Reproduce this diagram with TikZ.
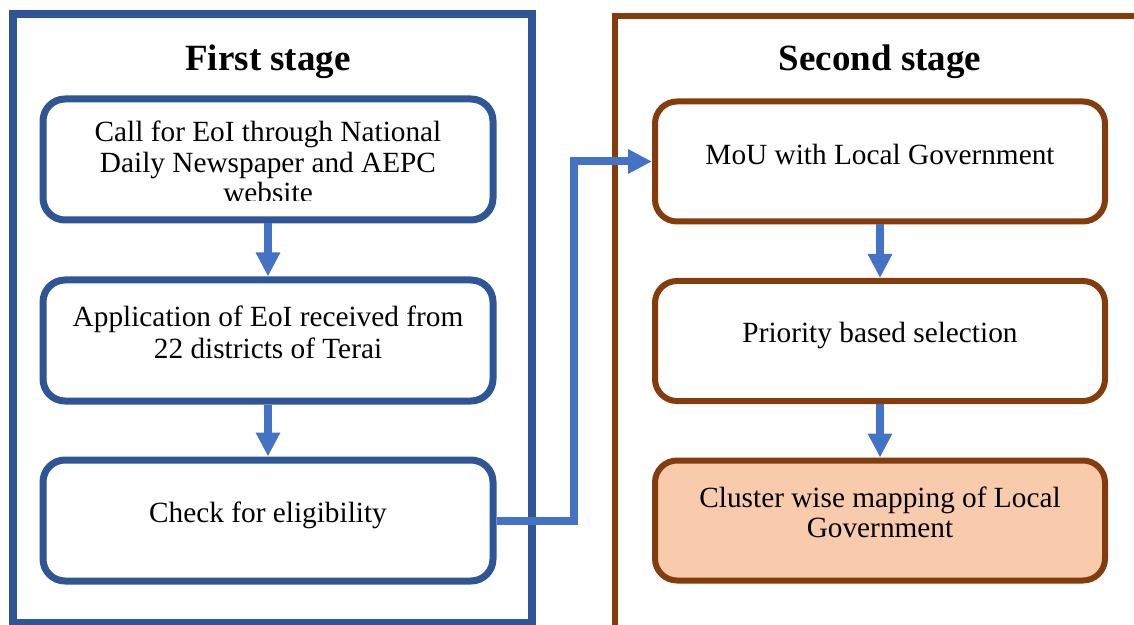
\documentclass[tikz,border=0pt]{standalone}
\usepackage{fontspec}
\setmainfont{Liberation Serif}
\usetikzlibrary{arrows.meta}
\definecolor{frameblue}{HTML}{2F5597}
\definecolor{framebrown}{HTML}{843C0C}
\definecolor{flowblue}{HTML}{4472C4}
\definecolor{peach}{HTML}{F8CBAD}
\begin{document}
\begin{tikzpicture}[x=0.5pt,y=-0.5pt,
  leftbox/.style={draw=frameblue, line width=3.5pt, rounded corners=11pt,
    minimum width=225pt, minimum height=60.5pt, inner sep=0pt, fill=white},
  rightbox/.style={draw=framebrown, line width=3pt, rounded corners=11pt,
    minimum width=225pt, minimum height=60pt, inner sep=0pt, fill=white},
  boxtext/.style={anchor=base, inner sep=0pt,
    font=\fontsize{14.65}{15.25}\selectfont},
  stagetitle/.style={anchor=base, inner sep=0pt,
    font=\fontsize{18.5}{22}\selectfont\bfseries},
  flow/.style={draw=flowblue, line width=4pt,
    -{Triangle[width=11.5pt,length=12pt]}},
]
\clip (0,0) rectangle (1134,625);

% stage frames
\draw[frameblue, line width=4pt] (13,14) rectangle (532,623);
\draw[framebrown, line width=2.75pt] (615,700) -- (615,16) -- (1200,16);

% stage titles
\node[stagetitle] (s1) at (268,71) {First stage};
\node[stagetitle] (s2) at (880,71) {Second stage};

% first stage steps
\node[leftbox] (b1) at (268,159.5) {};
\node[leftbox] (b2) at (268,340.5) {};
\node[leftbox] (b3) at (268,520.5) {};

% second stage steps
\node[rightbox] (b4) at (880,161.5) {};
\node[rightbox] (b5) at (880,341) {};
\node[rightbox, fill=peach] (b6) at (880,520.5) {};

% step texts
\begin{scope}
  \clip (40,95) rectangle (497,201);
  \node[boxtext] (t1) at (268,142) {\begin{tabular}[t]{@{}c@{}}Call for EoI through National\\ Daily Newspaper and AEPC\\ website\end{tabular}};
\end{scope}
\node[boxtext, font=\fontsize{14.65}{15.75}\selectfont] (t2) at (268,327) {\begin{tabular}[t]{@{}c@{}}Application of EoI received from\\ 22 districts of Terai\end{tabular}};
\node[boxtext] (t3) at (268,522) {Check for eligibility};
\node[boxtext] (t4) at (880,165) {MoU with Local Government};
\node[boxtext] (t5) at (880,343) {Priority based selection};
\node[boxtext] (t6) at (880,507) {\begin{tabular}[t]{@{}c@{}}Cluster wise mapping of Local\\ Government\end{tabular}};

% connectors
\draw[flow] (b1.south) -- (b2.north);
\draw[flow] (b2.south) -- (b3.north);
\draw[flow] (b4.south) -- (b5.north);
\draw[flow] (b5.south) -- (b6.north);
\draw[flow, line join=miter] (b3.east) -- ++(77.5,0) |- (b4.west);
\end{tikzpicture}
\end{document}
